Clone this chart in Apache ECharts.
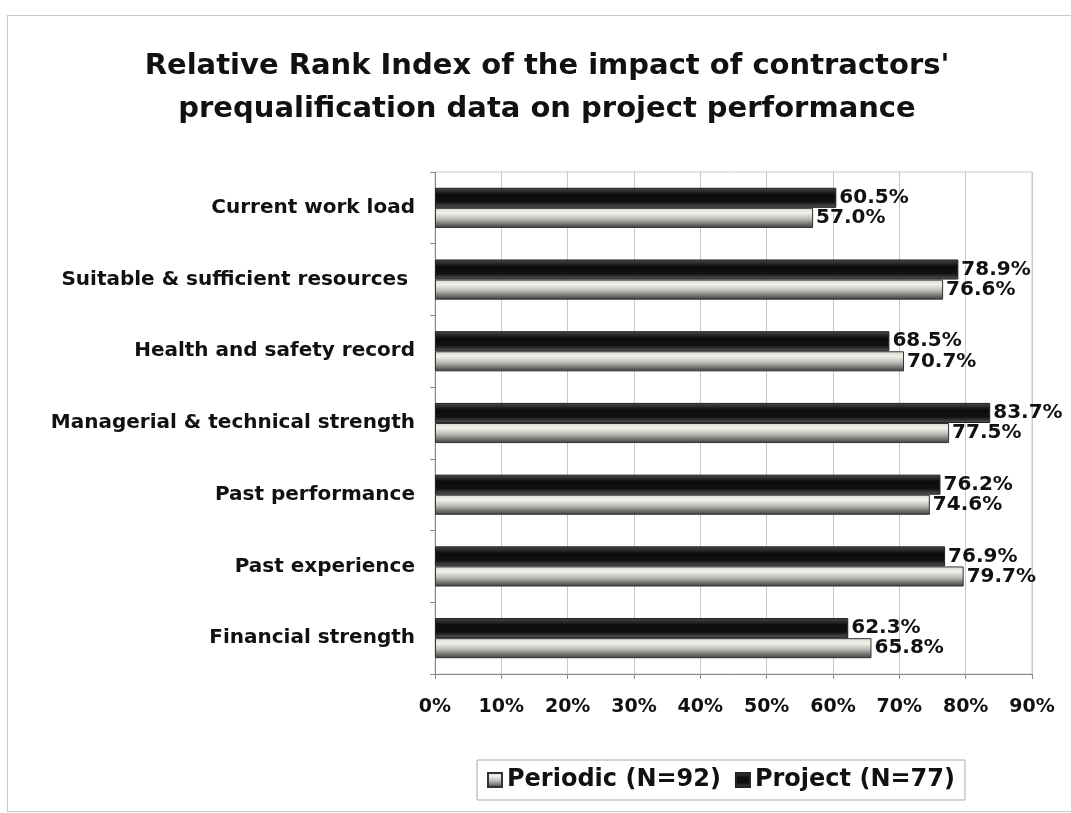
<!DOCTYPE html>
<html>
<head>
<meta charset="utf-8">
<script src="https://cdn.jsdelivr.net/npm/echarts@6/dist/echarts.min.js"></script>
<style>
  html, body { margin: 0; padding: 0; background: #fff; }
  #chart { width: 1071px; height: 813px; }
  #frame { position: absolute; left: 7px; top: 15px; width: 1070px; height: 795px; border: 1px solid #c8c8c8; border-right: none; pointer-events: none; }
</style>
</head>
<body>
<div id="chart"></div>
<div id="frame"></div>
<script>
// categories, bottom to top
var categories = ['Financial strength', 'Past experience', 'Past performance',
  'Managerial & technical strength', 'Health and safety record',
  'Suitable & sufficient resources ', 'Current work load'];
var projectValues = [62.3, 76.9, 76.2, 83.7, 68.5, 78.9, 60.5];
var periodicValues = [65.8, 79.7, 74.6, 77.5, 70.7, 76.6, 57.0];
var seriesNames = ['Periodic (N=92)', 'Project (N=77)'];

var chart = echarts.init(document.getElementById('chart'));
var font = '"DejaVu Sans", "Liberation Sans", Arial, sans-serif';

var darkFill = {
  type: 'linear', x: 0, y: 0, x2: 0, y2: 1,
  colorStops: [
    { offset: 0, color: '#4a4a4a' },
    { offset: 0.35, color: '#0c0c0c' },
    { offset: 0.7, color: '#111' },
    { offset: 1, color: '#5a5a5a' }
  ]
};
var lightFill = {
  type: 'linear', x: 0, y: 0, x2: 0, y2: 1,
  colorStops: [
    { offset: 0, color: '#d8d8d0' },
    { offset: 0.25, color: '#f2f2ea' },
    { offset: 0.55, color: '#bdbdb8' },
    { offset: 1, color: '#3a3a3a' }
  ]
};

var valueLabel = {
  show: true,
  position: 'right',
  distance: 3,
  formatter: function (p) { return p.value.toFixed(1) + '%'; },
  fontFamily: font,
  fontWeight: 'bold',
  fontSize: 20,
  color: '#111'
};

var option = {
  backgroundColor: '#fff',
  animation: false,
  title: {
    text: "Relative Rank Index of the impact of contractors'\nprequalification data on project performance",
    left: 542,
    textAlign: 'center',
    top: 40,
    textStyle: {
      fontFamily: font,
      fontWeight: 'bold',
      fontSize: 29,
      lineHeight: 43,
      color: '#111'
    }
  },
  legend: {
    data: seriesNames,
    icon: 'rect',
    bottom: 13,
    left: 477,
    borderColor: '#aaa',
    borderWidth: 1,
    padding: [8, 10],
    itemWidth: 14,
    itemHeight: 14,
    itemGap: 14,
    textStyle: {
      fontFamily: font,
      fontWeight: 'bold',
      fontSize: 24,
      color: '#111'
    }
  },
  grid: {
    left: 435,
    right: 39,
    top: 172,
    bottom: 139,
    show: true,
    borderColor: '#c8c8c8',
    borderWidth: 1
  },
  xAxis: {
    type: 'value',
    min: 0,
    max: 90,
    interval: 10,
    axisLine: { show: true, lineStyle: { color: '#888' } },
    axisTick: { show: true, length: 5, lineStyle: { color: '#888' } },
    splitLine: { show: true, lineStyle: { color: '#c8c8c8' } },
    axisLabel: {
      formatter: '{value}%',
      margin: 24,
      fontFamily: font,
      fontWeight: 'bold',
      fontSize: 19,
      color: '#111'
    }
  },
  yAxis: {
    type: 'category',
    data: categories,
    axisLine: { show: true, lineStyle: { color: '#888' } },
    axisTick: { show: true, length: 5, lineStyle: { color: '#888' } },
    splitLine: { show: false },
    axisLabel: {
      margin: 20,
      fontFamily: font,
      fontWeight: 'bold',
      fontSize: 20,
      color: '#111'
    }
  },
  series: [
    {
      name: seriesNames[1],
      type: 'bar',
      data: projectValues,
      barGap: '0%',
      barCategoryGap: '44%',
      itemStyle: { color: darkFill, borderColor: '#222', borderWidth: 1 },
      label: valueLabel
    },
    {
      name: seriesNames[0],
      type: 'bar',
      data: periodicValues,
      barGap: '0%',
      barCategoryGap: '44%',
      itemStyle: { color: lightFill, borderColor: '#333', borderWidth: 1 },
      label: valueLabel
    }
  ]
};

option && chart.setOption(option);
window.addEventListener('resize', function () {
  chart.resize();
});
</script>
</body>
</html>
